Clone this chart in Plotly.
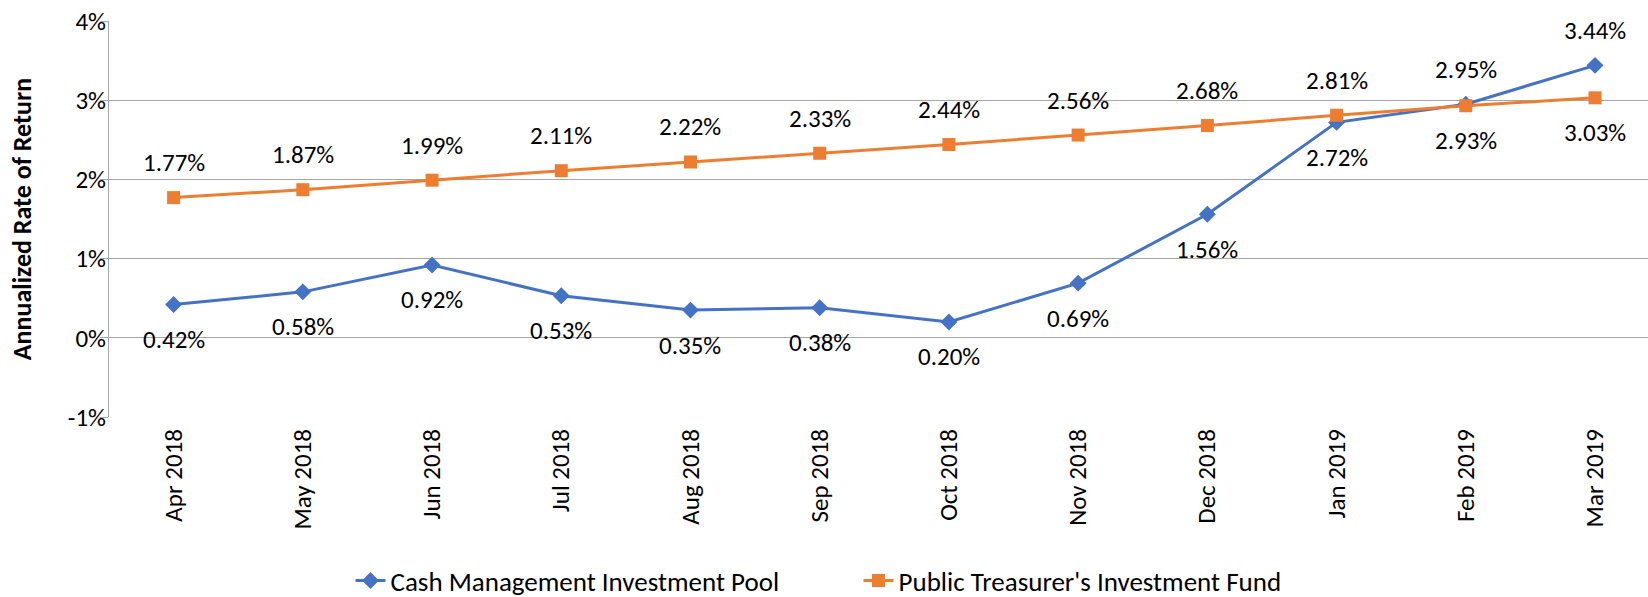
import plotly.graph_objects as go

months = ["Apr 2018", "May 2018", "Jun 2018", "Jul 2018", "Aug 2018", "Sep 2018",
          "Oct 2018", "Nov 2018", "Dec 2018", "Jan 2019", "Feb 2019", "Mar 2019"]
cash_pool = [0.42, 0.58, 0.92, 0.53, 0.35, 0.38, 0.20, 0.69, 1.56, 2.72, 2.95, 3.44]
treasurer_fund = [1.77, 1.87, 1.99, 2.11, 2.22, 2.33, 2.44, 2.56, 2.68, 2.81, 2.93, 3.03]
cash_label_side = ["below"] * 10 + ["above", "above"]
fund_label_side = ["above"] * 10 + ["below", "below"]
y_ticks = [-1, 0, 1, 2, 3, 4]

FONT = "Carlito, Calibri, Noto Sans, sans-serif"
BLUE = "#4472C4"
ORANGE = "#ED7D31"
SHIFT = 35
FS = 25

fig = go.Figure()
fig.add_trace(go.Scatter(
    x=months, y=cash_pool, name="Cash Management Investment Pool",
    mode="lines+markers", line=dict(color=BLUE, width=3),
    marker=dict(symbol="diamond", size=13, color=BLUE),
))
fig.add_trace(go.Scatter(
    x=months, y=treasurer_fund, name="Public Treasurer's Investment Fund",
    mode="lines+markers", line=dict(color=ORANGE, width=3),
    marker=dict(symbol="square", size=13, color=ORANGE),
))

for series, sides in ((cash_pool, cash_label_side), (treasurer_fund, fund_label_side)):
    for m, v, s in zip(months, series, sides):
        fig.add_annotation(
            x=m, y=v, xref="x", yref="y", text=f"{v:.2f}%", showarrow=False,
            yshift=SHIFT if s == "above" else -SHIFT,
            font=dict(family=FONT, size=FS, color="#000000"),
        )

fig.update_layout(
    width=1648, height=597,
    margin=dict(l=109, r=0, t=21, b=180, autoexpand=False),
    paper_bgcolor="white", plot_bgcolor="white",
    font=dict(family=FONT, size=FS, color="#000000"),
    showlegend=True,
    legend=dict(orientation="h", x=0.487, xanchor="center", y=-0.414, yanchor="middle",
                font=dict(family=FONT, size=27, color="#000000"),
                entrywidth=463, entrywidthmode="pixels", tracegroupgap=0),
    xaxis=dict(
        type="category", range=[-0.5, 11.41], tickangle=-90, automargin=False,
        showgrid=False, showline=False, zeroline=False, ticks="",
        ticklabelstandoff=6,
        tickfont=dict(family=FONT, size=FS, color="#000000"),
    ),
    yaxis=dict(
        range=[-1, 4], tickvals=y_ticks, ticktext=[f"{t}%" for t in y_ticks],
        automargin=False,
        showgrid=True, gridcolor="#A6A6A6", gridwidth=1,
        showline=True, linecolor="#A6A6A6", linewidth=1,
        zeroline=False, ticks="outside", ticklen=8, tickcolor="#A6A6A6",
        ticklabelstandoff=-11,
        tickfont=dict(family=FONT, size=FS, color="#000000"),
        title=dict(text="<b>Annualized Rate of Return</b>", standoff=28,
                   font=dict(family=FONT, size=26, color="#000000")),
    ),
)

fig.write_html("out.html", config={"displayModeBar": False},
               post_script="document.body.style.margin='0';document.body.style.overflow='hidden';")
